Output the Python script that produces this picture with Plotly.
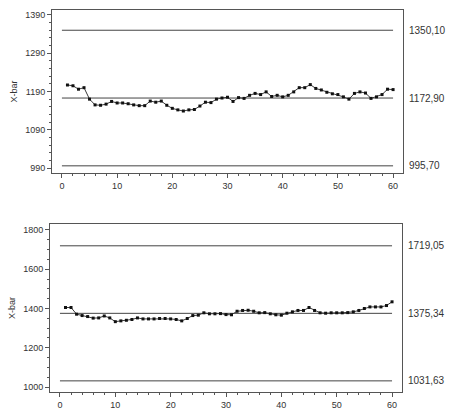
import plotly.graph_objects as go

# ---------------- data ----------------
sample = list(range(1, 61))

xbar_top = [1207, 1205, 1196, 1200, 1170, 1155, 1154, 1157, 1164, 1160,
            1160, 1158, 1155, 1153, 1153, 1165, 1162, 1165, 1154, 1146,
            1142, 1139, 1142, 1143, 1152, 1162, 1161, 1170, 1173, 1175,
            1164, 1174, 1172, 1180, 1185, 1182, 1189, 1177, 1180, 1176,
            1180, 1189, 1200, 1200, 1208, 1198, 1194, 1188, 1184, 1182,
            1176, 1170, 1185, 1189, 1186, 1172, 1176, 1182, 1196, 1195]
ucl_top, cl_top, lcl_top = 1350.10, 1172.90, 995.70
top_labels = ["1350,10", "1172,90", "995,70"]
top_yticks = [990, 1090, 1190, 1290, 1390]

xbar_bot = [1405, 1405, 1371, 1364, 1359, 1351, 1352, 1362, 1352, 1333,
            1337, 1340, 1344, 1352, 1347, 1347, 1347, 1349, 1349, 1347,
            1344, 1337, 1349, 1364, 1366, 1378, 1373, 1373, 1374, 1369,
            1368, 1386, 1390, 1391, 1386, 1378, 1379, 1373, 1368, 1366,
            1376, 1383, 1390, 1390, 1405, 1390, 1378, 1376, 1378, 1378,
            1378, 1379, 1383, 1390, 1400, 1408, 1408, 1408, 1415, 1434]
ucl_bot, cl_bot, lcl_bot = 1719.05, 1375.34, 1031.63
bot_labels = ["1719,05", "1375,34", "1031,63"]
bot_yticks = [1000, 1200, 1400, 1600, 1800]

x_ticks = [0, 10, 20, 30, 40, 50, 60]
limit_x = [0, 60]

FONT = "Liberation Sans, Arial, sans-serif"
TXT = "#333333"
FRAME = "#555555"

fig = go.Figure()

def add_panel(xa, ya, values, limits):
    for v in limits:
        fig.add_trace(go.Scatter(x=limit_x, y=[v, v], mode="lines",
                                 line=dict(color="#444444", width=1),
                                 xaxis=xa, yaxis=ya, hoverinfo="skip",
                                 showlegend=False))
    fig.add_trace(go.Scatter(x=sample, y=values, mode="lines+markers",
                             line=dict(color="#3a3a3a", width=1),
                             marker=dict(symbol="square", size=3, color="#111111"),
                             xaxis=xa, yaxis=ya, showlegend=False))

add_panel("x", "y", xbar_top, [ucl_top, cl_top, lcl_top])
add_panel("x2", "y2", xbar_bot, [ucl_bot, cl_bot, lcl_bot])

def xaxis_cfg(domain, anchor):
    return dict(domain=domain, anchor=anchor, range=[-1.8, 61.8],
                tickvals=x_ticks, ticks="outside", ticklen=4, tickcolor=FRAME,
                minor=dict(ticks="outside", ticklen=2, dtick=2, tick0=0, tickcolor=FRAME),
                showline=True, linecolor=FRAME, linewidth=1, mirror=True,
                showgrid=False, zeroline=False,
                tickfont=dict(family=FONT, size=9, color=TXT))

def yaxis_cfg(domain, anchor, rng, ticks, minor_dtick):
    return dict(domain=domain, anchor=anchor, range=rng,
                tickvals=ticks, ticks="outside", ticklen=4, tickcolor=FRAME,
                minor=dict(ticks="outside", ticklen=2, dtick=minor_dtick,
                           tick0=ticks[0], tickcolor=FRAME),
                showline=True, linecolor=FRAME, linewidth=1, mirror=True,
                showgrid=False, zeroline=False,
                tickfont=dict(family=FONT, size=9, color=TXT),
                title=dict(text="X-bar", font=dict(family=FONT, size=9, color=TXT),
                           standoff=6))

def mirror_x(overlay, anchor):
    return dict(overlaying=overlay, anchor=anchor, side="top", range=[-1.8, 61.8],
                tickvals=x_ticks, ticks="inside", ticklen=4, tickcolor=FRAME,
                minor=dict(ticks="inside", ticklen=2, dtick=2, tick0=0, tickcolor=FRAME),
                showticklabels=False, showgrid=False, zeroline=False, showline=False)

def mirror_y(overlay, anchor, rng, ticks, minor_dtick):
    return dict(overlaying=overlay, anchor=anchor, side="right", range=rng,
                tickvals=ticks, ticks="inside", ticklen=4, tickcolor=FRAME,
                minor=dict(ticks="inside", ticklen=2, dtick=minor_dtick,
                           tick0=ticks[0], tickcolor=FRAME),
                showticklabels=False, showgrid=False, zeroline=False, showline=False)

top_xd = [52 / 454, 403 / 454]
top_yd = [1 - 173 / 412, 1 - 10 / 412]
bot_xd = [50 / 454, 402 / 454]
bot_yd = [1 - 392 / 412, 1 - 224 / 412]
top_range = [977, 1403]
bot_range = [975, 1830]

fig.update_layout(
    width=454, height=412,
    margin=dict(l=0, r=0, t=0, b=0),
    paper_bgcolor="white", plot_bgcolor="white",
    xaxis=xaxis_cfg(top_xd, "y"),
    yaxis=yaxis_cfg(top_yd, "x", top_range, top_yticks, 20),
    xaxis2=xaxis_cfg(bot_xd, "y2"),
    yaxis2=yaxis_cfg(bot_yd, "x2", bot_range, bot_yticks, 50),
    xaxis3=mirror_x("x", "y"),
    yaxis3=mirror_y("y", "x", top_range, top_yticks, 20),
    xaxis4=mirror_x("x2", "y2"),
    yaxis4=mirror_y("y2", "x2", bot_range, bot_yticks, 50),
    showlegend=False,
)

annotations = []
for v, lab in zip([ucl_top, cl_top, lcl_top], top_labels):
    annotations.append(dict(xref="x domain", yref="y", x=1.01, y=v, text=lab,
                            showarrow=False, xanchor="left", yanchor="middle",
                            font=dict(family=FONT, size=10, color=TXT)))
for v, lab in zip([ucl_bot, cl_bot, lcl_bot], bot_labels):
    annotations.append(dict(xref="x2 domain", yref="y2", x=1.01, y=v, text=lab,
                            showarrow=False, xanchor="left", yanchor="middle",
                            font=dict(family=FONT, size=10, color=TXT)))
fig.update_layout(annotations=annotations)

fig.write_html("out.html", config={"displayModeBar": False},
               post_script="document.body.style.margin='0';document.body.style.overflow='hidden';")
